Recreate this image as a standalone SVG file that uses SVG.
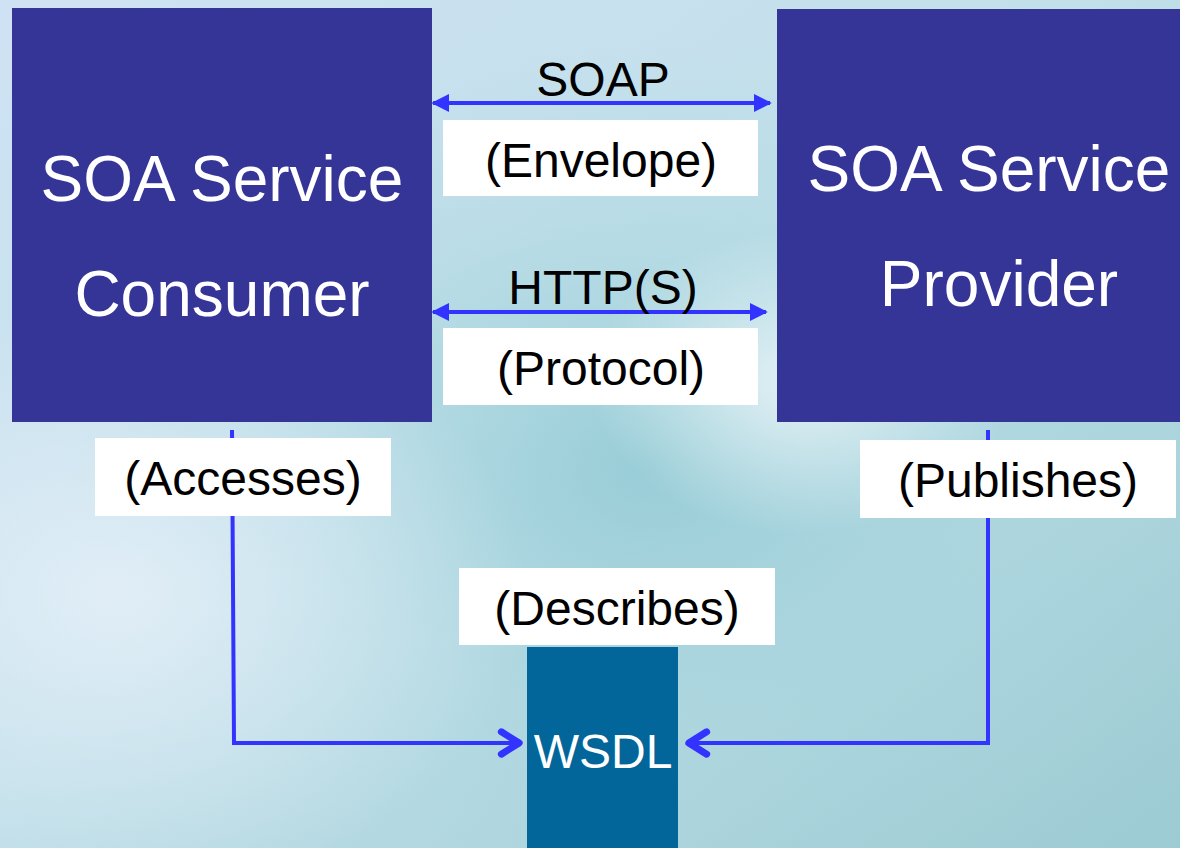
<svg xmlns="http://www.w3.org/2000/svg" width="1180" height="848" viewBox="0 0 1180 848">
  <defs>
    <linearGradient id="bg" x1="0" y1="0" x2="1" y2="1">
      <stop offset="0" stop-color="#cfe2f3"/>
      <stop offset="0.45" stop-color="#c2e0ea"/>
      <stop offset="1" stop-color="#9ccbd3"/>
    </linearGradient>
    <radialGradient id="swirl" cx="0.55" cy="0.55" r="0.5">
      <stop offset="0" stop-color="#8fc9d3" stop-opacity="0.8"/>
      <stop offset="0.6" stop-color="#a9d6df" stop-opacity="0.4"/>
      <stop offset="1" stop-color="#a9d6df" stop-opacity="0"/>
    </radialGradient>
    <radialGradient id="pale" cx="0.1" cy="0.7" r="0.35">
      <stop offset="0" stop-color="#e4eff8" stop-opacity="0.9"/>
      <stop offset="1" stop-color="#e4eff8" stop-opacity="0"/>
    </radialGradient>
    <radialGradient id="foam" cx="0.68" cy="0.45" r="0.18">
      <stop offset="0" stop-color="#f2f8fb" stop-opacity="0.8"/>
      <stop offset="1" stop-color="#f2f8fb" stop-opacity="0"/>
    </radialGradient>
    <marker id="tri" viewBox="0 0 10 10" refX="9" refY="5" markerWidth="4.5" markerHeight="4.5" orient="auto-start-reverse" markerUnits="strokeWidth">
      <path d="M0,0 L10,5 L0,10 z" fill="#3333ff"/>
    </marker>
    <marker id="chev" viewBox="0 0 12 12" refX="10.5" refY="6" markerWidth="8" markerHeight="8" orient="auto" markerUnits="strokeWidth">
      <path d="M3.5,1.8 L10.2,6 L3.5,10.2" fill="none" stroke="#3333ff" stroke-width="2.6" stroke-linecap="round" stroke-linejoin="round"/>
    </marker>
  </defs>
  <style>
    text { font-family: "Liberation Sans", Arial, sans-serif; text-anchor: middle; }
    .box { fill: #353597; }
    .big { fill: #ffffff; font-size: 64px; }
    .lbl { fill: #ffffff; }
    .lt { fill: #000000; font-size: 48px; }
    .wire { fill: none; stroke: #3333ff; stroke-width: 4; }
  </style>

  <!-- background -->
  <rect width="1180" height="848" fill="url(#bg)"/>
  <rect width="1180" height="848" fill="url(#swirl)"/>
  <rect width="1180" height="848" fill="url(#pale)"/>
  <rect width="1180" height="848" fill="url(#foam)"/>

  <!-- connectors -->
  <g id="connectors">
    <line class="wire" x1="433" y1="103" x2="770" y2="103" marker-start="url(#tri)" marker-end="url(#tri)"/>
    <line class="wire" x1="433" y1="312" x2="766" y2="312" marker-start="url(#tri)" marker-end="url(#tri)"/>
    <polyline class="wire" points="232,430 234,743 520,743" marker-end="url(#chev)"/>
    <polyline class="wire" points="988,430 988,743 688,743" marker-end="url(#chev)"/>
    <text class="lt" x="603" y="96">SOAP</text>
    <text class="lt" x="603" y="304">HTTP(S)</text>
  </g>

  <g id="consumer">
    <rect class="box" x="12" y="8" width="420" height="414"/>
    <text class="big" x="222" y="201">SOA Service</text>
    <text class="big" x="222" y="316">Consumer</text>
  </g>

  <g id="provider">
    <rect class="box" x="777" y="9" width="403" height="413"/>
    <text class="big" x="989" y="191">SOA Service</text>
    <text class="big" x="999" y="306">Provider</text>
  </g>

  <g id="envelope">
    <rect class="lbl" x="443" y="120" width="315" height="76"/>
    <text class="lt" x="601" y="177">(Envelope)</text>
  </g>

  <g id="protocol">
    <rect class="lbl" x="443" y="328" width="315" height="77"/>
    <text class="lt" x="601" y="385">(Protocol)</text>
  </g>

  <g id="accesses">
    <rect class="lbl" x="95" y="438" width="296" height="78"/>
    <text class="lt" x="243" y="495">(Accesses)</text>
  </g>

  <g id="publishes">
    <rect class="lbl" x="860" y="440" width="316" height="78"/>
    <text class="lt" x="1018" y="497">(Publishes)</text>
  </g>

  <g id="describes">
    <rect class="lbl" x="459" y="568" width="316" height="77"/>
    <text class="lt" x="617" y="625">(Describes)</text>
  </g>

  <g id="wsdl">
    <rect x="527" y="647" width="151" height="201" fill="#02669a"/>
    <text x="603" y="768" fill="#ffffff" font-size="48">WSDL</text>
  </g>
</svg>
